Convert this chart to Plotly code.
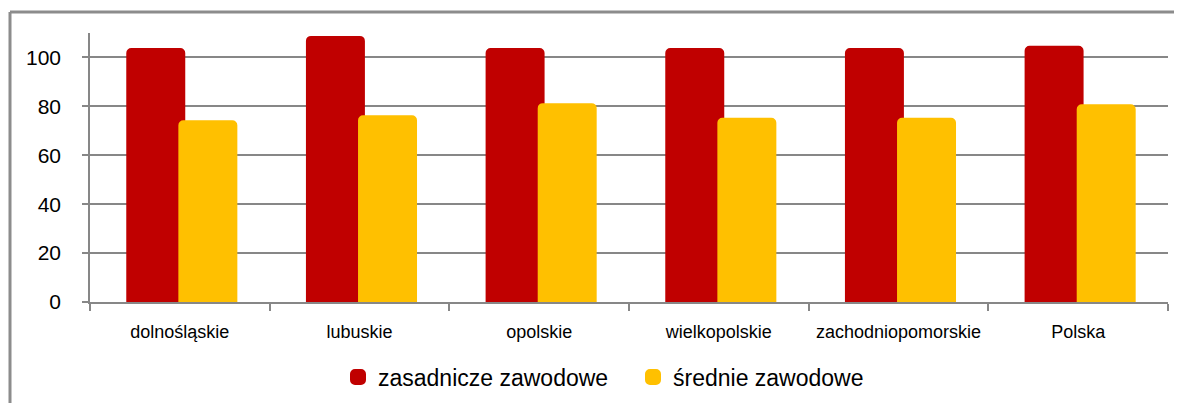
import plotly.graph_objects as go

categories = ["dolnośląskie", "lubuskie", "opolskie", "wielkopolskie", "zachodniopomorskie", "Polska"]
zasadnicze = [103, 108, 103, 103, 103, 104]
srednie = [73.5, 75.5, 80.5, 74.5, 74.5, 80]
series_names = ["zasadnicze zawodowe", "średnie zawodowe"]
y_ticks = [0, 20, 40, 60, 80, 100]

RED = "#C00000"
YEL = "#FFC000"
GRID = "#878787"

# page body has an ~8px margin; compensate
L, T, R, B = 82, 25, 22, 109
PW, PH = 1182 - L - R, 403 - T - B

fig = go.Figure()
fig.add_trace(go.Bar(x=categories, y=zasadnicze, name=series_names[0],
                     marker=dict(color=RED, line=dict(width=4, color=RED)),
                     width=0.306, offset=-0.287))
fig.add_trace(go.Bar(x=categories, y=srednie, name=series_names[1],
                     marker=dict(color=YEL, line=dict(width=4, color=YEL)),
                     width=0.306, offset=0.003))

fig.update_layout(
    width=1182, height=403,
    margin=dict(l=L, r=R, t=T, b=B, autoexpand=False),
    paper_bgcolor="white", plot_bgcolor="white",
    barmode="overlay",
    barcornerradius=3,
    font=dict(family="Liberation Sans, Arial, sans-serif", color="black"),
    showlegend=True,
    legend=dict(orientation="h", x=(330 - L) / PW, xanchor="left",
                y=(PH + T - 369) / PH, yanchor="middle",
                font=dict(size=23), traceorder="normal",
                entrywidth=250, entrywidthmode="pixels", itemwidth=30),
    xaxis=dict(
        type="category",
        showline=True, linecolor=GRID, linewidth=1.5,
        ticks="outside", tickson="boundaries", ticklen=7, tickcolor=GRID, tickwidth=1.5,
        tickfont=dict(size=18),
        ticklabelstandoff=13,
        showgrid=False,
        range=[-0.5, 5.5],
    ),
    yaxis=dict(
        range=[0, 110],
        tickvals=y_ticks,
        showline=True, linecolor=GRID, linewidth=1.5,
        ticks="outside", ticklen=6, tickcolor=GRID, tickwidth=1.5,
        showgrid=True, gridcolor=GRID, gridwidth=1.5,
        zeroline=False,
        tickfont=dict(size=21),
        ticklabelstandoff=17,
    ),
    shapes=[
        dict(type="line", xref="paper", yref="paper",
             x0=(2 - L) / PW, x1=(1182 - L) / PW,
             y0=(PH + T - 4) / PH, y1=(PH + T - 4) / PH,
             line=dict(color="#8C8C8C", width=3)),
        dict(type="line", xref="paper", yref="paper",
             x0=(2 - L) / PW, x1=(2 - L) / PW,
             y0=(PH + T - 4) / PH, y1=(PH + T - 410) / PH,
             line=dict(color="#8C8C8C", width=3)),
    ],
)

fig.write_html("out.html")
